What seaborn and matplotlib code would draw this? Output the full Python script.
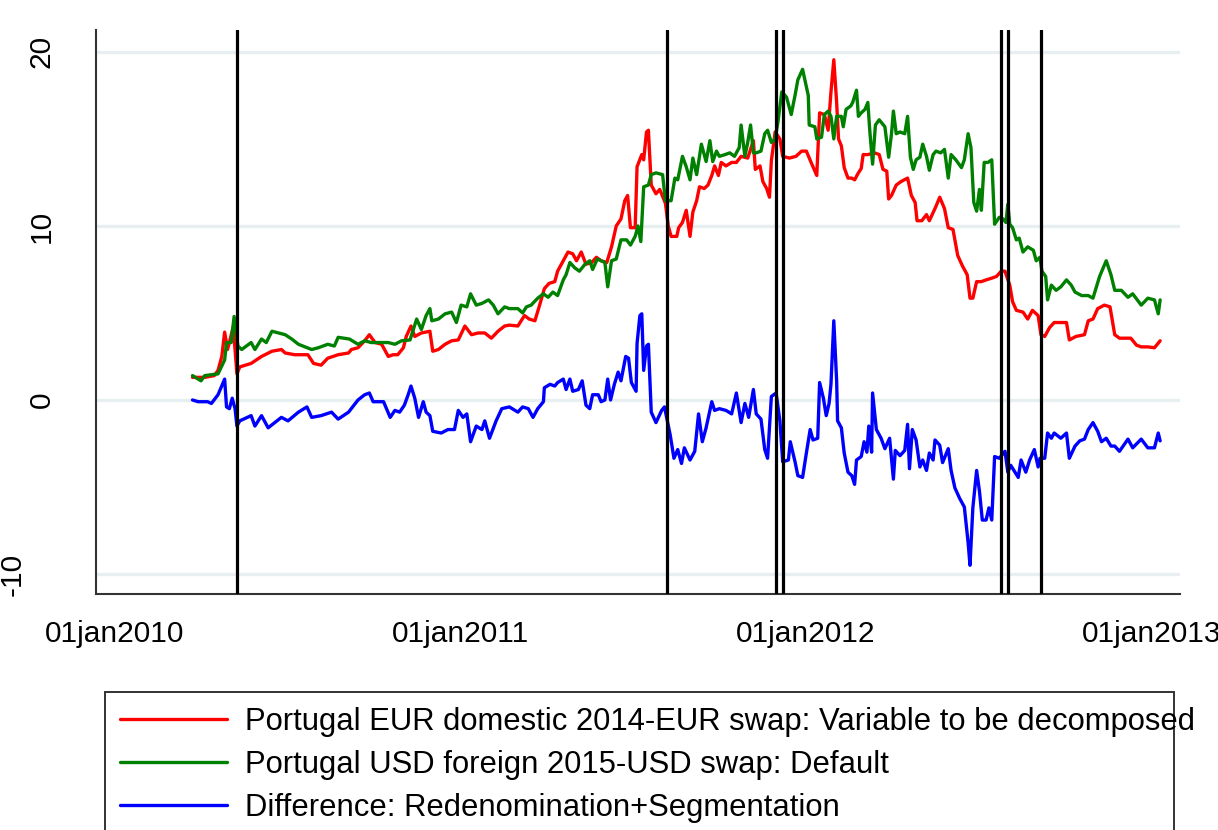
import pandas as pd
import numpy as np
import matplotlib
matplotlib.use("Agg")
import matplotlib.pyplot as plt
import matplotlib.patches as mpatches
import seaborn as sns

# day offsets counted from 01jan2010
day0 = pd.Timestamp("2010-01-01")

red_days = [82, 95, 105, 109, 113, 116, 119, 121, 125, 127, 129, 132, 144, 155, 166, 176, 180, 190, 204, 210, 218, 225, 236, 247,
            250, 257, 264, 269, 275, 282, 289, 294, 299, 305, 308, 313, 317, 324, 333, 336, 342, 349, 356, 363, 370, 377, 384, 391, 398, 405, 412, 417,
            426, 433, 438, 444, 449, 454, 459, 465, 468, 474, 479, 484, 488, 493, 498, 504, 509, 514, 520, 525, 530, 535, 539, 542, 545, 550, 552, 557, 559, 562, 564, 567, 572, 576, 579, 582, 585,
            588, 594, 596, 600, 604, 608, 611, 615, 618, 623, 627, 631, 634, 638, 641, 646, 652, 657, 662, 669, 675, 677, 682, 685, 689, 692, 694, 698, 703, 706, 713, 720, 726, 731, 736, 742, 745, 750,
            754, 757, 760, 763, 765, 768, 771, 775, 779, 782, 786, 789, 791, 796, 803, 808, 812, 816, 818, 821, 826, 831, 838, 842, 846, 848, 853, 858, 861, 867, 872, 877, 881, 886, 891, 896, 901, 904, 907, 911, 916, 921,
            927, 932, 937, 941, 946, 949, 953, 960, 965, 970, 976, 979, 983, 988, 993, 1000, 1006, 1009, 1016, 1025, 1029, 1034, 1039, 1046, 1052, 1057, 1062, 1067, 1074, 1080, 1085, 1092, 1099, 1105]
red_vals = [1.3, 1.3, 1.4, 1.7, 2.5, 3.9, 2.9, 3.3, 4.2, 2.9, 1.5, 1.9, 2.1, 2.5, 2.8, 2.9, 2.7, 2.6, 2.6, 2.1, 2.0, 2.4, 2.6, 2.7,
            2.9, 3.0, 3.4, 3.75, 3.3, 3.2, 2.5, 2.6, 2.6, 3.0, 3.65, 4.25, 3.65, 3.85, 3.95, 2.8, 2.9, 3.2, 3.4, 3.45, 4.25, 3.75, 3.85, 3.85, 3.55, 3.95, 4.25, 4.3,
            4.25, 4.85, 4.65, 4.55, 5.45, 6.4, 6.7, 6.8, 7.4, 8.0, 8.5, 8.4, 8.0, 8.5, 7.8, 7.9, 8.2, 8.0, 7.9, 8.8, 10.0, 10.4, 11.45, 11.75, 9.9, 9.9, 13.4, 14.1, 13.8, 15.4, 15.5, 12.35, 11.85, 12.1, 11.7, 11.3, 10.0,
            9.4, 9.4, 9.9, 10.2, 10.9, 9.4, 10.8, 11.45, 12.25, 12.15, 12.35, 12.9, 13.45, 12.9, 13.65, 13.45, 13.65, 13.65, 14.0, 13.9, 14.9, 13.25, 13.45, 12.55, 12.15, 11.65, 13.75, 15.4, 15.0, 14.0, 13.9, 14.0, 14.3, 14.3, 13.65, 12.9, 16.5, 16.4,
            15.5, 17.7, 19.55, 17.1, 15.0, 14.6, 13.35, 12.75, 12.75, 12.65, 13.05, 13.3, 14.1, 14.1, 14.2, 14.1, 13.25, 13.15, 11.55, 11.75, 12.35, 12.55, 12.75, 11.75, 11.35, 10.3, 10.3, 10.65, 10.3, 11.0, 11.65, 11.0, 9.9, 9.8, 8.3, 7.7, 7.2, 5.85, 5.85, 6.8, 6.8, 6.9,
            7.0, 7.1, 7.4, 7.4, 6.6, 5.65, 5.15, 5.05, 4.65, 5.15, 4.85, 3.75, 3.65, 4.15, 4.45, 4.45, 4.45, 3.45, 3.65, 3.75, 4.55, 4.65, 5.25, 5.45, 5.35, 3.75, 3.55, 3.55, 3.55, 3.15, 3.05, 3.05, 3.0, 3.4]

green_days = [82, 91, 95, 109, 116, 118, 123, 126, 130, 134, 144, 148, 155, 160, 166, 173, 180, 187, 194, 208, 215, 225, 232, 236, 248,
              257, 264, 271, 278, 289, 296, 303, 312, 319, 324, 329, 333, 335, 342, 349, 356, 361, 366, 372, 376, 382, 388, 395, 400, 405, 412, 417,
              426, 431, 435, 440, 447, 453, 458, 463, 468, 474, 477, 481, 486, 491, 497, 502, 505, 510, 518, 521, 525, 530, 535, 541, 545, 550, 553, 556, 559, 564, 567, 572, 579, 582,
              588, 592, 595, 600, 604, 608, 611, 615, 620, 625, 629, 632, 636, 639, 645, 650, 655, 660, 662, 666, 669, 672, 675, 678, 683, 687, 690, 694, 698, 701, 705, 710, 715, 719, 722, 727, 733, 734, 740, 742, 747, 750,
              754, 757, 760, 763, 768, 770, 773, 778, 780, 784, 786, 789, 793, 796, 798, 801, 804, 808, 814, 818, 821, 823, 826, 830, 835, 838, 841, 844, 847, 851, 854, 858, 861, 865, 868, 873, 877, 881, 884, 889, 895, 898, 902, 905, 908, 911, 914, 916, 919,
              923, 927, 930, 935, 939, 942, 944, 946, 949, 953, 956, 960, 965, 971, 974, 978, 980, 984, 986, 990, 995, 1000, 1006, 1011, 1015, 1022, 1029, 1034, 1041, 1048, 1053, 1057, 1064, 1071, 1076, 1085, 1092, 1099, 1103, 1105]
green_vals = [1.4, 1.1, 1.4, 1.5, 2.3, 3.3, 3.3, 4.8, 3.1, 2.9, 3.3, 2.9, 3.5, 3.3, 3.95, 3.85, 3.75, 3.5, 3.2, 2.9, 3.0, 3.2, 3.1, 3.6, 3.5,
              3.2, 3.4, 3.3, 3.3, 3.3, 3.2, 3.4, 3.45, 4.65, 4.05, 4.85, 5.25, 4.55, 4.65, 4.95, 5.05, 4.45, 5.45, 5.35, 6.1, 5.45, 5.55, 5.75, 5.45, 4.95, 5.35, 5.25,
              5.25, 5.0, 5.35, 5.45, 5.85, 6.1, 5.9, 6.2, 6.0, 6.9, 7.2, 7.9, 7.6, 7.4, 7.8, 8.0, 7.5, 8.1, 7.9, 6.5, 8.0, 8.1, 9.2, 9.2, 8.9, 9.4, 10.0, 9.1, 12.25, 12.35, 12.95, 13.05, 12.95, 11.45,
              11.45, 12.75, 12.65, 14.0, 13.4, 12.65, 13.9, 12.95, 14.7, 13.7, 14.9, 13.7, 14.3, 14.0, 14.1, 14.2, 14.0, 14.5, 15.8, 14.0, 14.8, 15.8, 14.2, 14.2, 14.3, 15.3, 15.5, 14.8, 15.0, 16.0, 17.7, 17.4, 16.4, 17.5, 18.4, 19.0, 17.5, 15.8, 15.7, 15.0, 15.1, 16.4,
              16.6, 16.3, 15.0, 16.3, 16.3, 15.7, 16.7, 16.9, 17.1, 17.8, 16.3, 16.5, 16.7, 17.1, 15.5, 13.55, 15.8, 16.1, 15.7, 13.95, 15.3, 16.6, 15.3, 15.4, 15.3, 16.3, 13.95, 13.25, 13.8, 13.95, 14.7, 14.0, 13.2, 14.1, 14.3, 14.2, 14.4, 12.75, 14.1, 13.8, 13.35, 13.8, 15.3, 14.5, 11.35, 10.85, 12.1, 10.9, 13.65,
              13.65, 13.8, 10.1, 10.5, 10.4, 10.2, 11.25, 10.1, 9.9, 9.2, 9.3, 8.5, 8.8, 8.6, 8.0, 8.2, 7.4, 7.1, 5.75, 6.6, 6.3, 6.5, 6.9, 6.6, 6.2, 6.0, 6.0, 5.85, 7.1, 8.0, 7.2, 6.3, 6.3, 5.9, 6.1, 5.45, 5.85, 5.75, 4.95, 5.75]

blue_days = [82, 88, 98, 102, 109, 116, 118, 121, 124, 127, 129, 132, 144, 148, 155, 162, 169, 176, 183, 194, 203, 208, 218, 229, 236, 247,
             257, 264, 269, 273, 278, 284, 291, 296, 301, 306, 310, 313, 317, 321, 326, 329, 333, 336, 345, 352, 359, 363, 368, 372, 376, 382, 388, 391, 396, 403, 409, 417,
             426, 431, 437, 442, 447, 453, 454, 460, 465, 468, 474, 477, 481, 484, 490, 494, 498, 502, 505, 511, 514, 518, 521, 524, 528, 532, 535, 540, 543, 546, 551, 552, 555, 557, 559, 562, 564, 567, 572, 578, 581,
             587, 591, 595, 599, 602, 608, 613, 617, 621, 625, 631, 634, 639, 646, 652, 657, 662, 666, 670, 675, 678, 683, 687, 690, 694, 699, 703, 706, 712, 714, 719, 722, 727, 731, 735, 738, 743, 745, 749, 752,
             755, 757, 758, 760, 763, 764, 768, 771, 775, 779, 782, 784, 789, 792, 795, 797, 800, 801, 805, 810, 814, 819, 823, 825, 830, 835, 838, 840, 843, 847, 851, 854, 858, 861, 865, 867, 872, 875, 881, 884, 888, 893, 898, 902, 904, 907, 911, 914, 917, 921,
             924, 927, 930, 935, 941, 944, 947, 955, 958, 963, 967, 972, 976, 978, 983, 986, 990, 993, 1000, 1006, 1009, 1015, 1020, 1025, 1029, 1034, 1039, 1043, 1048, 1053, 1057, 1062, 1071, 1076, 1085, 1092, 1099, 1103, 1105]
blue_vals = [0.0, -0.1, -0.1, -0.2, 0.3, 1.2, -0.4, -0.5, 0.1, -0.5, -1.5, -1.2, -0.9, -1.5, -0.9, -1.6, -1.3, -1.0, -1.2, -0.7, -0.4, -1.0, -0.9, -0.7, -1.1, -0.7,
             0.0, 0.3, 0.4, -0.1, -0.1, -0.1, -1.0, -0.6, -0.7, -0.3, 0.3, 0.8, 0.1, -1.0, -0.1, -0.7, -0.9, -1.8, -1.9, -1.7, -1.7, -0.6, -1.0, -0.8, -2.4, -1.5, -1.7, -1.2, -2.2, -1.2, -0.5, -0.4,
             -0.7, -0.4, -0.5, -1.0, -0.5, -0.1, 0.7, 0.9, 0.8, 1.0, 1.2, 0.6, 1.2, 0.5, 0.6, 1.1, -0.3, -0.5, 0.3, 0.3, -0.1, 0.0, 1.2, 0.0, 0.9, 1.6, 1.1, 2.5, 2.4, 1.0, 0.5, 3.25, 4.85, 4.95, 1.7, 3.1, 3.2, -0.7, -1.3, -0.6, -0.4,
             -2.0, -3.35, -2.85, -3.65, -2.75, -3.45, -2.95, -0.8, -2.4, -1.6, -0.1, -0.6, -0.5, -0.6, -0.8, 0.4, -1.3, -0.2, -1.0, 0.6, -0.8, -1.1, -2.85, -3.35, 0.2, 0.4, -1.2, -3.55, -3.45, -2.4, -3.55, -4.35, -4.45, -3.05, -1.7, -2.3, -2.2, 1.0, 0.1, -0.9,
             -0.2, 0.9, 2.1, 4.55, 1.1, -1.2, -1.6, -3.05, -4.15, -4.35, -4.85, -3.45, -3.25, -2.4, -3.0, -1.5, -3.0, 0.4, -1.7, -2.2, -2.8, -2.2, -4.55, -2.9, -3.2, -2.9, -1.4, -3.95, -1.7, -2.3, -3.85, -3.45, -4.05, -3.05, -3.45, -2.3, -2.6, -3.6, -2.8, -4.05, -5.05, -5.65, -6.15, -8.2, -9.5, -6.2, -4.05, -5.25, -6.9, -6.9,
             -6.2, -6.9, -3.25, -3.35, -2.95, -4.15, -3.75, -4.45, -3.45, -4.15, -3.45, -2.85, -3.85, -3.35, -3.35, -1.9, -2.2, -1.9, -2.2, -1.9, -3.35, -2.65, -2.35, -2.25, -1.7, -1.3, -1.8, -2.4, -2.2, -2.65, -2.65, -2.95, -2.25, -2.75, -2.25, -2.75, -2.75, -1.9, -2.35]

series_names = ["Portugal EUR domestic 2014-EUR swap: Variable to be decomposed",
                "Portugal USD foreign 2015-USD swap: Default",
                "Difference: Redenomination+Segmentation"]
series_colors = ["#ff0000", "#008000", "#0000ff"]

event_dates = ["2010-05-10", "2011-08-08", "2011-12-01", "2011-12-08",
               "2012-07-26", "2012-08-02", "2012-09-06"]

xtick_dates = ["2010-01-01", "2011-01-01", "2012-01-01", "2013-01-01"]
xtick_labels = ["01jan2010", "01jan2011", "01jan2012", "01jan2013"]
ytick_vals = [-10, 0, 10, 20]

frames = []
for name, days, vals in zip(series_names, [red_days, green_days, blue_days], [red_vals, green_vals, blue_vals]):
    frames.append(pd.DataFrame({"date": day0 + pd.to_timedelta(days, unit="D"),
                                "value": vals, "series": name}))
df = pd.concat(frames, ignore_index=True)

sns.set_style("white")
plt.rcParams['font.family'] = ['Liberation Sans', 'DejaVu Sans']
plt.rcParams['text.color'] = 'black'
fs = 21.5

fig = plt.figure(figsize=(12.18, 8.3), dpi=100)
ax = fig.add_axes([96 / 1218, (830 - 594) / 830, (1180 - 96) / 1218, (594 - 30) / 830])

for y in ytick_vals:
    ax.axhline(y, color="#e8eff1", lw=2.2, zorder=0)

sns.lineplot(data=df, x="date", y="value", hue="series", hue_order=series_names,
             palette=dict(zip(series_names, series_colors)), estimator=None,
             lw=2.4, ax=ax, legend=True, zorder=3)
for ln in ax.lines:
    ln.set_linewidth(2.4)

for d in event_dates:
    ax.axvline(pd.Timestamp(d), color="black", lw=2.3, zorder=4)

ax.set_xlim(pd.Timestamp("2009-12-12"), pd.Timestamp("2013-01-31"))
ax.set_ylim(-11.15, 21.26)

ax.set_xticks([pd.Timestamp(d) for d in xtick_dates])
ax.set_xticklabels(xtick_labels, fontsize=fs)
ax.set_yticks(ytick_vals)
ax.set_yticklabels(["" if v == -10 else str(v) for v in ytick_vals], fontsize=fs,
                   rotation=90, va="center")
ax.text(-0.064, -10, "-10", transform=ax.get_yaxis_transform(), rotation=90,
        ha="right", va="center", fontsize=fs, color="black")

ax.tick_params(axis="both", direction="out", length=9, width=1.3, color="#333333",
               labelcolor="black")
ax.tick_params(axis="y", pad=20)
ax.tick_params(axis="x", pad=10)
ax.set_xlabel("")
ax.set_ylabel("")

for s in ["top", "right"]:
    ax.spines[s].set_visible(False)
for s in ["left", "bottom"]:
    ax.spines[s].set_color("#333333")
    ax.spines[s].set_linewidth(1.5)

handles, labels = ax.get_legend_handles_labels()
ax.get_legend().remove()
leg = fig.legend(handles, labels, loc="upper left", bbox_to_anchor=(120 / 1218, 1 - 707 / 830),
                 frameon=False, fontsize=22.3, handlelength=3.45, handletextpad=0.6,
                 labelspacing=0.42, borderpad=0, borderaxespad=0, labelcolor="black")
for h in leg.get_lines():
    h.set_linewidth(2.4)

fig.patches.append(mpatches.Rectangle((105 / 1218, -0.1), (1174 - 105) / 1218, (830 - 692) / 830 + 0.1,
                                      transform=fig.transFigure, fill=False,
                                      edgecolor="#333333", lw=1.4))

fig.savefig("out.png", dpi=100, facecolor="white")
